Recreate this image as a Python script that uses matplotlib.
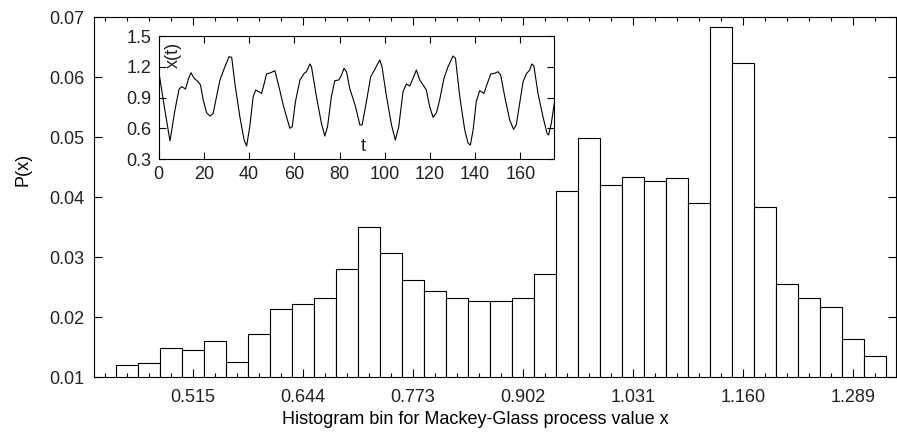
import matplotlib
matplotlib.use("Agg")
import matplotlib.pyplot as plt

plt.rcParams['font.family'] = ['Liberation Sans', 'DejaVu Sans']
plt.rcParams['font.size'] = 13
plt.rcParams['text.color'] = '#222222'
plt.rcParams['xtick.labelcolor'] = '#222222'
plt.rcParams['ytick.labelcolor'] = '#222222'

# histogram of the process values, one value per bin
p_x = [0.0121, 0.0124, 0.0149, 0.0146, 0.0160, 0.0125, 0.0172, 0.0214, 0.0223, 0.0233,
       0.0281, 0.0350, 0.0307, 0.0263, 0.0244, 0.0233, 0.0228, 0.0227, 0.0233, 0.0272,
       0.0411, 0.0499, 0.0420, 0.0433, 0.0427, 0.0432, 0.0391, 0.0683, 0.0623, 0.0383,
       0.0256, 0.0233, 0.0217, 0.0164, 0.0136]
bins = list(range(len(p_x)))
label_bins = [3, 8, 13, 18, 23, 28, 33]
bin_labels = ["0.515", "0.644", "0.773", "0.902", "1.031", "1.160", "1.289"]
y_ticks = [0.01, 0.02, 0.03, 0.04, 0.05, 0.06, 0.07]

# Mackey-Glass time series (inset)
t = [0, 2.5, 5.0, 7.2, 9.0, 10.2, 11.9, 13.1, 14.3, 15.7,
     17.5, 18.5, 19.7, 21.2, 22.7, 24.1, 25.6, 27.1, 29.3, 31.1,
     32.3, 33.7, 35.9, 37.8, 38.9, 40.3, 41.8, 42.9, 44.3, 45.5,
     46.7, 47.7, 49.6, 51.4, 53.2, 55.1, 58.0, 59.1, 60.5, 62.5,
     64.4, 65.4, 66.9, 67.6, 69.8, 72.0, 73.5, 74.7, 76.4, 77.9,
     79.7, 80.9, 82.0, 83.1, 84.5, 87.1, 89.0, 90.0, 91.9, 93.8,
     95.6, 97.8, 98.8, 100.8, 103.0, 104.7, 106.2, 108.1, 109.6, 111.1,
     112.5, 114.0, 115.5, 117.0, 118.4, 119.9, 121.4, 122.9, 124.3, 126.2,
     128.0, 130.2, 131.3, 133.2, 135.4, 136.9, 137.9, 139.1, 140.5, 142.0,
     143.9, 145.4, 146.9, 148.6, 150.1, 151.3, 153.1, 155.3, 157.0, 158.2,
     159.7, 161.2, 162.6, 164.1, 165.1, 166.0, 167.8, 170.0, 171.8, 172.5,
     173.7, 174.9, 176]
x_t = [1.16, 0.81, 0.476, 0.778, 0.98, 1.006, 0.983, 1.077, 1.142, 1.087,
       1.054, 1.022, 0.876, 0.752, 0.719, 0.745, 0.908, 1.071, 1.20, 1.298,
       1.292, 1.038, 0.713, 0.485, 0.427, 0.615, 0.908, 0.973, 0.957, 0.94,
       1.038, 1.129, 1.142, 1.162, 1.006, 0.827, 0.6, 0.615, 0.86, 1.071,
       1.136, 1.152, 1.227, 1.2, 0.908, 0.648, 0.524, 0.615, 0.908, 1.064,
       1.071, 1.12, 1.185, 1.152, 0.99, 0.81, 0.632, 0.632, 0.86, 1.103,
       1.175, 1.266, 1.2, 0.908, 0.632, 0.485, 0.615, 0.957, 1.032, 1.012,
       1.087, 1.168, 1.071, 1.022, 0.973, 0.81, 0.706, 0.752, 0.876, 1.087,
       1.2, 1.305, 1.282, 0.908, 0.583, 0.453, 0.437, 0.583, 0.86, 0.967,
       0.94, 1.038, 1.129, 1.136, 1.152, 1.12, 0.908, 0.68, 0.589, 0.632,
       0.843, 1.054, 1.129, 1.168, 1.227, 1.207, 0.94, 0.713, 0.55, 0.534,
       0.648, 0.827, 0.95]
t_ticks = [0, 20, 40, 60, 80, 100, 120, 140, 160]
xt_ticks = [0.3, 0.6, 0.9, 1.2, 1.5]

fig = plt.figure(figsize=(8.97, 4.36), dpi=100)

# main histogram
ax = fig.add_axes([0.1048, 0.1342, 0.894, 0.8268])
ax.bar(bins, p_x, width=1.0, color="white", edgecolor="black", linewidth=0.8)
ax.set_xlim(-1.5, 34.95)
ax.set_ylim(0.01, 0.07)
ax.set_xticks(label_bins, bin_labels)
ax.set_xticks(range(-1, 35), minor=True)
ax.set_yticks(y_ticks, ["%.2f" % v for v in y_ticks])
ax.tick_params(which="both", direction="in", top=True, right=True, width=0.8)
ax.tick_params(which="major", length=6, pad=8)
ax.tick_params(axis="y", which="major", pad=7)
ax.tick_params(which="minor", length=3)
for s in ax.spines.values():
    s.set_linewidth(0.8)
ax.set_xlabel("Histogram bin for Mackey-Glass process value x")
ax.xaxis.set_label_coords(0.475, -0.092)
ax.set_ylabel("P(x)")
ax.yaxis.set_label_coords(-0.078, 0.578)

# inset: the time series
ins = fig.add_axes([0.1769, 0.6353, 0.4410, 0.2821])
ins.plot(t, x_t, color="black", linewidth=0.8)
ins.set_xlim(0, 175)
ins.set_ylim(0.3, 1.5)
ins.set_xticks(t_ticks)
ins.set_yticks(xt_ticks, ["%.1f" % v for v in xt_ticks])
ins.tick_params(direction="in", top=True, right=True, length=5, width=0.8, pad=5)
for s in ins.spines.values():
    s.set_linewidth(0.8)
ins.text(6.5, 1.32, "x(t)", rotation=90, ha="center", va="center")
ins.text(90.5, 0.42, "t", ha="center", va="center")

fig.savefig("out.png", dpi=100)
